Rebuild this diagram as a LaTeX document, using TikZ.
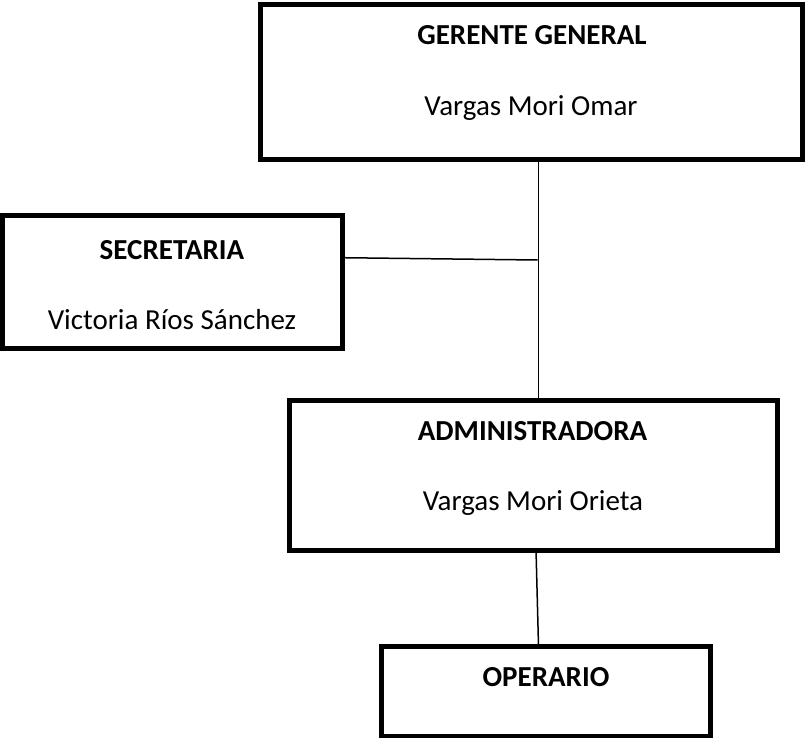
\documentclass[tikz,border=0pt]{standalone}
\usepackage{fontspec}
\setmainfont{Carlito}
\begin{document}
\begin{tikzpicture}[x=1pt,y=-1pt,
  box/.style={draw=black,line width=5pt,rectangle,inner sep=0pt,line join=miter},
  lbl/.style={anchor=base,inner sep=0pt,font=\fontsize{29}{35}\selectfont},
  ttl/.style={lbl,font=\fontsize{29}{35}\selectfont\bfseries},
  conn/.style={draw=black,line width=1.5pt}]
\useasboundingbox (0,0) rectangle (805,738);
% boxes
\node[box,minimum width=542pt,minimum height=155.5pt] (ger) at (531.5,82.25) {};
\node[box,minimum width=339.5pt,minimum height=133pt] (sec) at (172.25,281.5) {};
\node[box,minimum width=487.5pt,minimum height=150pt] (adm) at (533.25,475) {};
\node[box,minimum width=329.5pt,minimum height=89.5pt] (ope) at (545.75,691.25) {};
% texts
\node[ttl] (gert) at (532,44.5) {GERENTE GENERAL};
\node[lbl] (gern) at (531,116) {Vargas Mori Omar};
\node[ttl] (sect) at (172,259) {SECRETARIA};
\node[lbl] (secn) at (172,329) {Victoria Ríos Sánchez};
\node[ttl] (admt) at (532.5,440) {ADMINISTRADORA};
\node[lbl] (admn) at (533,510) {Vargas Mori Orieta};
\node[ttl] (opet) at (546,686) {OPERARIO};
% connectors
\coordinate (j) at (537.5,260);
\draw[conn] ([xshift=7pt,yshift=4pt]ger.south) -- ([xshift=5.25pt,yshift=-5pt]adm.north);
\draw[conn] ([xshift=-2.5pt,yshift=23.8pt]sec.east) -- (j);
\draw[conn] ([xshift=2.75pt,yshift=3pt]adm.south) -- ([xshift=-7.25pt,yshift=-2pt]ope.north);
\end{tikzpicture}
\end{document}
